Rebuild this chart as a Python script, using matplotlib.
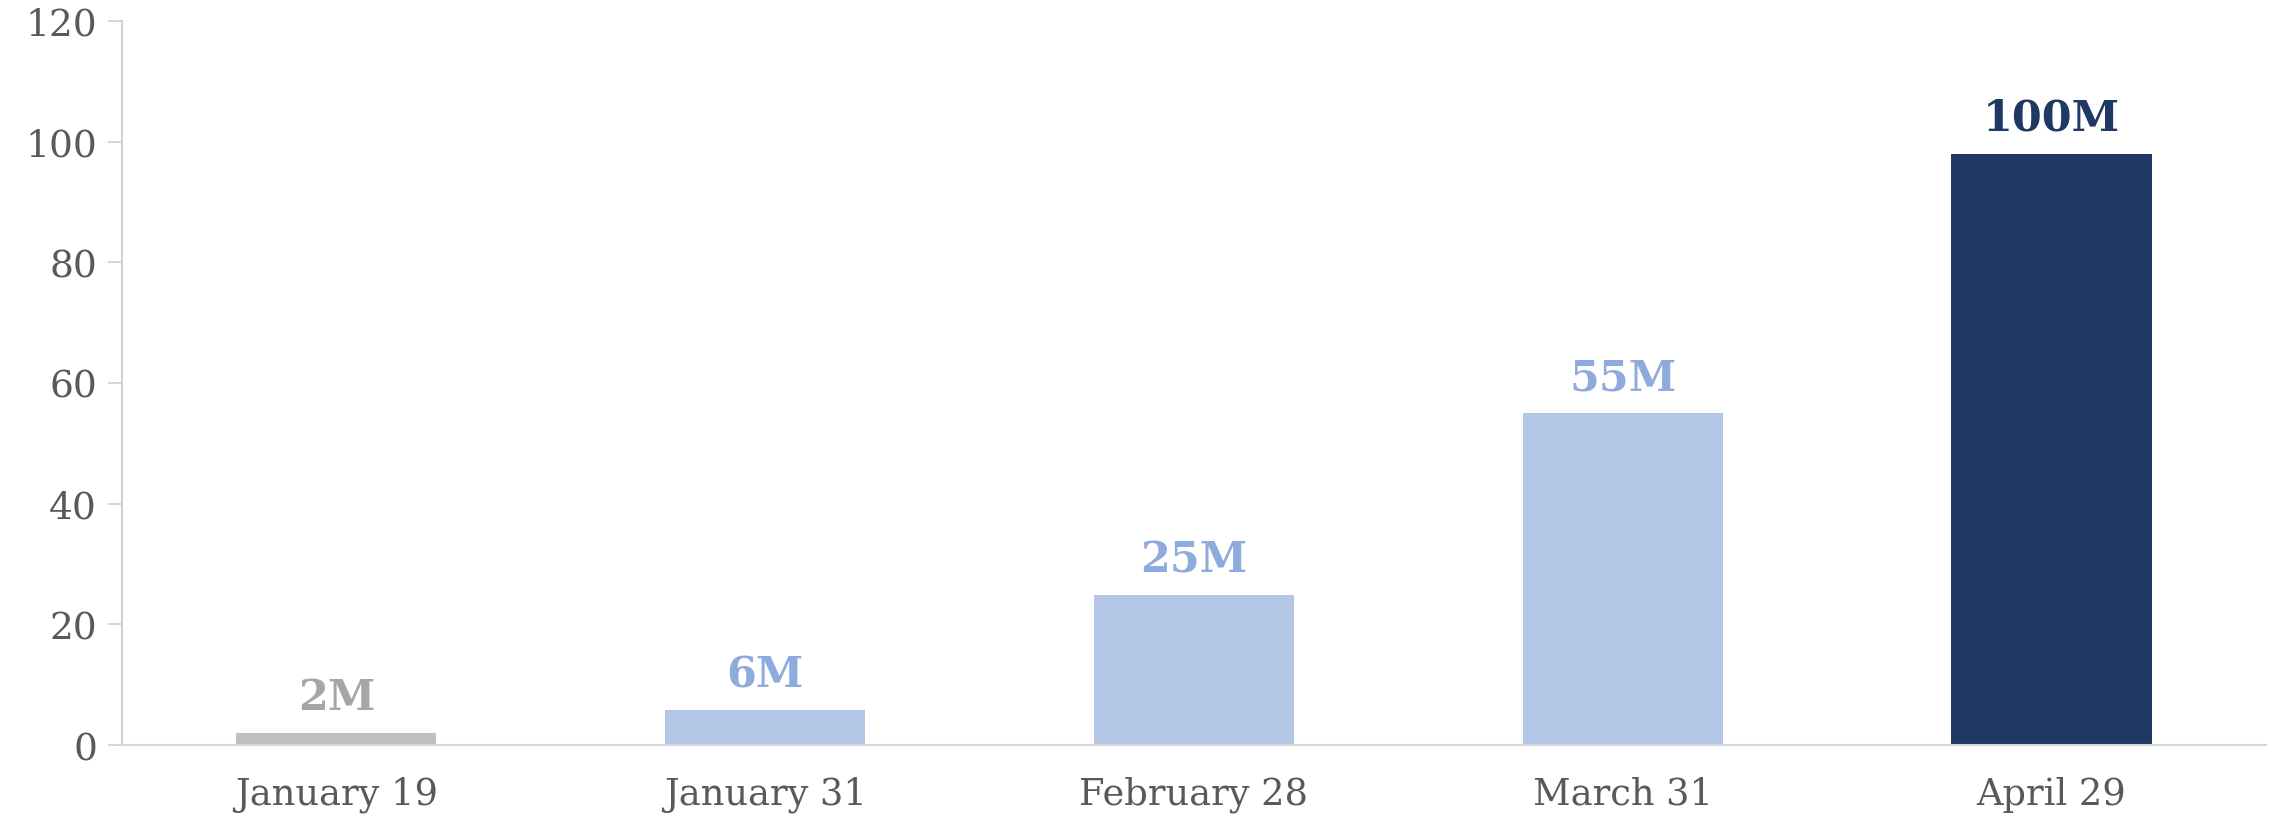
import numpy as np
import matplotlib.pyplot as plt

# donnees
dates = ["January 19", "January 31", "February 28", "March 31", "April 29"]
valeurs = [2, 5.8, 24.8, 55, 98]
etiquettes = ["2M", "6M", "25M", "55M", "100M"]
couleurs = ["#BFBFBF", "#B4C7E7", "#B4C7E7", "#B4C7E7", "#203864"]
couleurs_txt = ["#A6A6A6", "#8FAADC", "#8FAADC", "#8FAADC", "#203864"]

plt.rcParams['font.family'] = ['DejaVu Serif']

fig = plt.figure(figsize=(22.75, 8.2), dpi=100)
ax = fig.add_axes([0.0536, 0.0902, 0.9424, 0.8832])

x = np.arange(len(dates))
barres = ax.bar(x, valeurs, width=0.467, color=couleurs)

# etiquettes au dessus des barres
for i, b in enumerate(barres):
    ax.annotate(etiquettes[i], (b.get_x() + b.get_width() / 2, b.get_height()),
                xytext=(0, 17), textcoords='offset points', ha='center', va='baseline',
                fontsize=31, fontweight='bold', color=couleurs_txt[i])

ax.set_xlim(-0.5, len(dates) - 0.5)
ax.set_ylim(0, 120)
ax.set_yticks(np.arange(0, 121, 20))
ax.set_xticks(x)
ax.set_xticklabels(dates)

ax.spines['top'].set_visible(False)
ax.spines['right'].set_visible(False)
ax.spines['left'].set_color('#D0D0D0')
ax.spines['bottom'].set_color('#D9D9D9')
ax.spines['left'].set_linewidth(1.5)
ax.spines['bottom'].set_linewidth(1.5)

ax.tick_params(axis='y', length=10, width=1.2, color='#D0D0D0', labelsize=27, labelcolor='#595959', pad=8)
ax.tick_params(axis='x', length=0, labelsize=26.5, labelcolor='#595959', pad=22)

fig.savefig('out.png', dpi=100)
